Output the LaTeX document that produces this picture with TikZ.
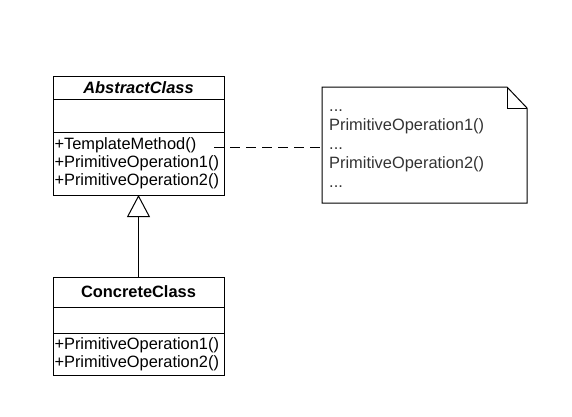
\documentclass[tikz,border=0pt]{standalone}
\usepackage{fontspec}
\setmainfont{Liberation Sans}
\usepackage{tikz}
\usetikzlibrary{positioning, arrows.meta}

\tikzset{
  part/.style={draw, line width=1pt, anchor=north west, minimum width=171pt, inner sep=1pt, outer sep=0pt},
  ops/.style={part, align=left, text width=168pt, font=\fontsize{16.4}{18}\selectfont}
}

\begin{document}
\begin{tikzpicture}[x=1pt,y=-1pt]
\useasboundingbox (0,0) rectangle (572,416);
\fontsize{16.4}{18}\selectfont

% classe abstraite
\node[part, minimum height=23pt] (aname) at (53,76) {\bfseries\itshape AbstractClass};
\node[part, minimum height=33pt] (aattr) at (53,99) {};
\node[ops, minimum height=63pt] (aops) at (53,132) {+TemplateMethod()\\+PrimitiveOperation1()\\+PrimitiveOperation2()};

% classe concrete
\node[part, minimum height=30pt] (cname) at (53,277) {\bfseries ConcreteClass};
\node[part, minimum height=26pt] (cattr) at (53,307) {};
\node[ops, minimum height=42pt] (cops) at (53,333) {+PrimitiveOperation1()\\+PrimitiveOperation2()};

% heritage
\draw[line width=1pt, -{Triangle[open, length=22pt, width=23pt, fill=white]}] (cname.north) -- (aops.south);

% la note
\draw[line width=1pt] (322,87) -- (507,87) -- (527,108) -- (527,203) -- (322,203) -- cycle;
\draw[line width=1pt] (507,87) -- (507,108) -- (527,108);
\coordinate (nw) at (322,145);
\node[anchor=north west, align=left, inner sep=0pt, text=black!80, font=\fontsize{16.4}{19}\selectfont] (note) at (329,110) {...\\PrimitiveOperation1()\\...\\PrimitiveOperation2()\\...};

\coordinate (tm) at (214,147);
\draw[line width=1pt, dash pattern=on 10pt off 6pt] (tm) -- (tm -| nw);%le lien
\end{tikzpicture}
\end{document}
